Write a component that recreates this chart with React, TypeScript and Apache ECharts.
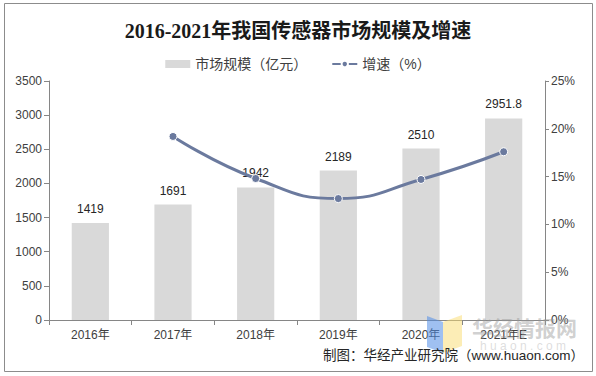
import React, { useEffect, useRef } from "react";
import * as echarts from "echarts";

const categories = ["2016年", "2017年", "2018年", "2019年", "2020年", "2021年E"];
const marketSize = [1419, 1691, 1942, 2189, 2510, 2951.8];
const growthRate: (number | null)[] = [null, 19.2, 14.8, 12.7, 14.7, 17.6];
const titleText = "2016-2021年我国传感器市场规模及增速";
const sourceText = "制图：华经产业研究院（www.huaon.com）";

export default function App() {
  const ref = useRef<HTMLDivElement>(null);
  useEffect(() => {
    if (!ref.current) return;
    document.body.style.margin = "0";
    const chart = echarts.init(ref.current, null, { renderer: "svg" });
    const axisColor = "#868686";
    const labelColor = "#404040";
    const sans = "Liberation Sans, Arial, Noto Sans CJK SC, sans-serif";
    chart.setOption({
      animation: false,
      backgroundColor: "#ffffff",
      title: {
        text: titleText,
        left: "center",
        top: 16,
        textStyle: {
          fontFamily: "Liberation Serif, Noto Sans CJK SC, serif",
          fontWeight: "bold",
          fontSize: 20,
          color: "#1a1a1a",
        },
      },
      legend: {
        top: 52,
        left: "center",
        itemGap: 24,
        itemWidth: 25,
        itemHeight: 8,
        textStyle: { fontFamily: sans, fontSize: 14, color: labelColor },
        data: [
          { name: "市场规模（亿元）", icon: "rect" },
          { name: "增速（%）" },
        ],
      },
      grid: { left: 49, right: 51, top: 81, bottom: 56 },
      xAxis: {
        type: "category",
        data: categories,
        axisLine: { lineStyle: { color: axisColor } },
        axisTick: { show: true, alignWithLabel: false, length: 5, lineStyle: { color: axisColor } },
        axisLabel: { fontFamily: sans, fontSize: 12, color: labelColor, margin: 9 },
      },
      yAxis: [
        {
          type: "value",
          min: 0,
          max: 3500,
          interval: 500,
          position: "left",
          splitLine: { show: false },
          axisLine: { show: true, lineStyle: { color: axisColor } },
          axisTick: { show: true, length: 5, lineStyle: { color: axisColor } },
          axisLabel: {
            fontFamily: sans,
            fontSize: 12,
            color: labelColor,
            margin: 7,
            formatter: (v: number) => String(v),
          },
        },
        {
          type: "value",
          min: 0,
          max: 25,
          interval: 5,
          position: "right",
          splitLine: { show: false },
          axisLine: { show: true, lineStyle: { color: axisColor } },
          axisTick: { show: true, length: 4, lineStyle: { color: axisColor } },
          axisLabel: { fontFamily: sans, fontSize: 12, color: labelColor, margin: 6, formatter: "{value}%" },
        },
      ],
      series: [
        {
          name: "市场规模（亿元）",
          type: "bar",
          data: marketSize,
          barWidth: "45%",
          itemStyle: { color: "#D9D9D9" },
          label: {
            show: true,
            position: "top",
            distance: 8,
            fontFamily: sans,
            fontSize: 12,
            color: "#262626",
          },
        },
        {
          name: "增速（%）",
          type: "line",
          yAxisIndex: 1,
          data: growthRate,
          smooth: true,
          symbol: "circle",
          symbolSize: 8,
          lineStyle: { color: "#6B7A9E", width: 3 },
          itemStyle: { color: "#6B7A9E", borderColor: "#ffffff", borderWidth: 1 },
        },
      ],
      graphic: [
        {
          type: "rect",
          shape: { x: 4.5, y: 3.5, width: 588, height: 368 },
          style: { fill: "none", stroke: "#8c8c8c", lineWidth: 1 },
          silent: true,
          z: 0,
        },
        {
          type: "polygon",
          shape: { points: [[427, 316], [443, 322], [443, 353], [427, 347]] },
          style: { fill: "rgba(80,140,230,0.55)" },
          silent: true,
          z: 10,
        },
        {
          type: "polygon",
          shape: { points: [[443, 322], [462, 315], [462, 346], [443, 353]] },
          style: { fill: "rgba(250,220,110,0.5)" },
          silent: true,
          z: 10,
        },
        {
          type: "text",
          x: 472,
          y: 316,
          style: {
            text: "华经情报网",
            fontFamily: "Noto Sans CJK SC, sans-serif",
            fontWeight: "bold",
            fontSize: 21,
            fill: "rgba(150,150,150,0.45)",
          },
          silent: true,
          z: 10,
        },
        {
          type: "text",
          x: 480,
          y: 340,
          style: {
            text: "h u a o n . c o m",
            fontFamily: sans,
            fontSize: 12,
            fill: "rgba(170,170,170,0.4)",
          },
          silent: true,
          z: 10,
        },
        {
          type: "text",
          right: 12,
          top: 349,
          style: {
            text: sourceText,
            fontFamily: "Liberation Sans, Noto Sans CJK SC, sans-serif",
            fontSize: 13.5,
            fill: "#262626",
          },
          silent: true,
          z: 11,
        },
      ],
    });
    return () => chart.dispose();
  }, []);
  return <div ref={ref} style={{ width: 596, height: 376 }} />;
}
